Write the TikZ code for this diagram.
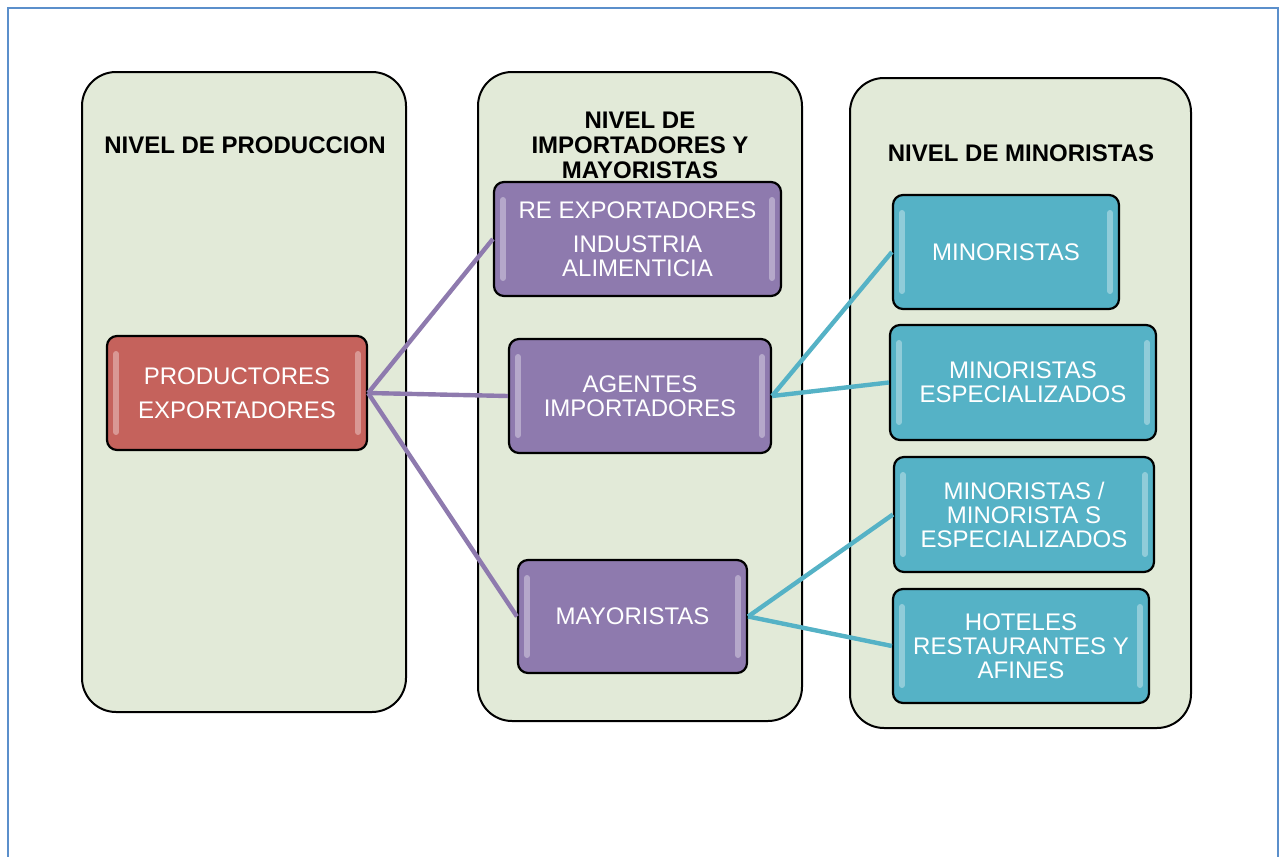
\documentclass[tikz,border=0pt]{standalone}
\usepackage{fontspec}
\setmainfont{Liberation Sans}

\definecolor{framebl}{HTML}{5B8FCB}
\definecolor{panelgr}{HTML}{E2EAD8}
\definecolor{prodred}{HTML}{C5625C}
\definecolor{imppur}{HTML}{8E7AAE}
\definecolor{minteal}{HTML}{55B2C6}

\tikzset{
  panel/.style={draw=black, line width=1pt, fill=panelgr, rounded corners=17pt},
  heading/.style={font=\fontsize{12}{12.5}\selectfont\bfseries, align=center, text=black},
  gloss/.style={path picture={
      \draw[white, opacity=0.35, line width=3pt, line cap=round]
        ([xshift=4.5pt,yshift=-9pt]path picture bounding box.north west) --
        ([xshift=4.5pt,yshift=9pt]path picture bounding box.south west);
      \draw[white, opacity=0.35, line width=3pt, line cap=round]
        ([xshift=-4.5pt,yshift=-9pt]path picture bounding box.north east) --
        ([xshift=-4.5pt,yshift=9pt]path picture bounding box.south east);}},
  levelbox/.style={draw=black, line width=1.1pt, rounded corners=5pt, gloss,
      text=white, align=center, font=\fontsize{12}{12}\selectfont,
      inner sep=0pt},
  prodbox/.style={levelbox, fill=prodred},
  impbox/.style={levelbox, fill=imppur},
  minbox/.style={levelbox, fill=minteal},
  purpleline/.style={draw=imppur, line width=2.2pt},
  tealline/.style={draw=minteal, line width=2.2pt}
}

\begin{document}
\begin{tikzpicture}[x=0.5pt, y=-0.5pt]

\useasboundingbox (0,0) rectangle (1282,857);

% 1. Frame of the page
\draw[framebl, line width=1.2pt] (8,857) -- (8,8) -- (1278,8) -- (1278,857);

% 2. The three level panels
\node[panel, minimum width=162pt, minimum height=320pt] (pprod) at (244,392) {};
\node[panel, minimum width=162pt, minimum height=324.5pt] (pimp) at (640,396.5) {};
\node[panel, minimum width=170.5pt, minimum height=325pt] (pmin) at (1020.5,403) {};

% 3. Headings
\node[heading] (hprod) at (245,145) {NIVEL DE PRODUCCION};
\node[heading] (himp) at (640,145) {NIVEL DE\\IMPORTADORES Y\\MAYORISTAS};
\node[heading] (hmin) at (1021,153) {NIVEL DE MINORISTAS};

% 4. Production level
\node[prodbox, minimum width=130pt, minimum height=57pt] (prod) at (237,393)
  {PRODUCTORES\\[5pt]EXPORTADORES};

% 5. Importers and wholesalers level
\node[impbox, minimum width=143.5pt, minimum height=57pt] (reexp) at (637.5,239)
  {RE EXPORTADORES\\[5pt]INDUSTRIA\\ALIMENTICIA};
\node[impbox, minimum width=131pt, minimum height=57pt] (agent) at (640,396)
  {AGENTES\\IMPORTADORES};
\node[impbox, minimum width=114.5pt, minimum height=56.5pt] (mayor) at (632.5,616.5)
  {MAYORISTAS};

% 6. Retail level
\node[minbox, minimum width=113pt, minimum height=57pt] (minor) at (1006,252)
  {MINORISTAS};
\node[minbox, minimum width=133pt, minimum height=57.5pt] (minesp) at (1023,382.5)
  {MINORISTAS\\ESPECIALIZADOS};
\node[minbox, minimum width=130pt, minimum height=57.5pt] (minmix) at (1024,514.5)
  {MINORISTAS /\\MINORISTA S\\ESPECIALIZADOS};
\node[minbox, minimum width=128pt, minimum height=57pt] (hotel) at (1021,646)
  {HOTELES\\RESTAURANTES Y\\AFINES};

% 7. Connectors
\draw[purpleline] (prod.east) -- (reexp.west);
\draw[purpleline] (prod.east) -- (agent.west);
\draw[purpleline] (prod.east) -- (mayor.west);
\draw[tealline] (agent.east) -- (minor.west);
\draw[tealline] (agent.east) -- (minesp.west);
\draw[tealline] (mayor.east) -- (minmix.west);
\draw[tealline] (mayor.east) -- (hotel.west);

\end{tikzpicture}
\end{document}
